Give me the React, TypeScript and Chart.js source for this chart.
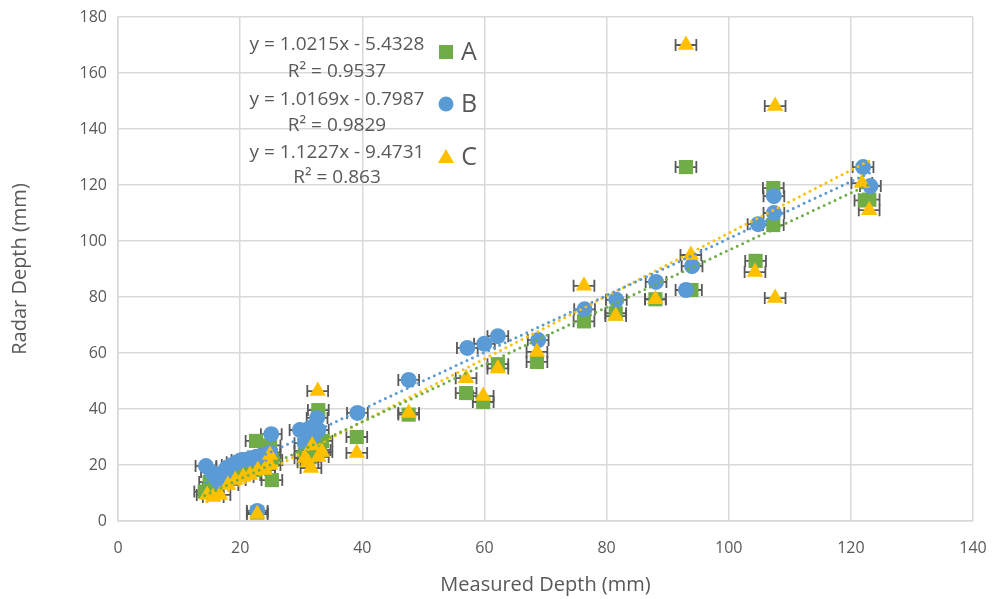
import React, { useEffect, useRef } from "react";
import { Chart, registerables } from "chart.js";
Chart.register(...registerables);

const seriesNames = ["A", "B", "C"];
const seriesColors = ["#70AD47", "#5B9BD5", "#FFC000"];
const seriesShapes = ["rect", "circle", "triangle"];
const seriesRadius = [10, 8, 9.5];

const aX = [14.2, 15.0, 15.6, 17.5, 19.2, 20.8, 22.4, 22.6, 24.0, 24.9, 25.2, 25.2, 22.8, 30.6, 31.4, 32.8, 33.1, 33.4, 39.1, 47.6, 57.0, 59.8, 62.2, 68.6, 76.3, 81.5, 88.0, 93.0, 93.9, 104.4, 107.3, 107.3, 122.3, 123.0];
const aY = [10.5, 13.9, 11.5, 15.4, 16.4, 17.5, 18.2, 28.6, 19.0, 27.0, 21.8, 14.6, 3.0, 25.0, 23.0, 39.6, 25.4, 28.6, 30.0, 38.0, 45.7, 42.5, 56.0, 56.8, 71.3, 74.2, 79.2, 126.4, 82.5, 92.9, 118.9, 105.7, 114.5, 114.8];

const bX = [14.4, 15.3, 16.0, 16.5, 17.0, 17.8, 18.0, 18.7, 19.5, 20.3, 21.2, 22.0, 23.0, 24.0, 24.9, 25.1, 22.8, 29.8, 30.6, 31.4, 31.9, 32.6, 32.8, 39.2, 47.6, 57.2, 60.0, 62.2, 68.8, 76.4, 81.6, 88.1, 93.0, 94.0, 104.8, 107.4, 107.4, 122.0, 123.2];
const bY = [19.6, 17.5, 15.5, 14.0, 17.0, 19.0, 16.0, 20.0, 21.0, 21.8, 22.0, 22.5, 23.0, 23.5, 24.5, 31.0, 3.6, 32.5, 27.8, 33.2, 29.0, 36.8, 32.5, 38.6, 50.4, 61.8, 63.3, 66.0, 64.6, 75.6, 79.0, 85.4, 82.5, 91.0, 106.0, 116.0, 110.0, 126.4, 119.6];

const cX = [14.6, 15.6, 16.7, 18.0, 19.2, 20.5, 21.6, 22.9, 24.0, 24.9, 24.9, 22.8, 30.6, 31.1, 31.6, 31.8, 32.7, 32.8, 33.4, 39.1, 47.6, 57.0, 59.8, 62.2, 68.6, 76.3, 81.5, 88.0, 93.0, 93.8, 104.3, 107.6, 107.6, 121.8, 123.0];
const cY = [9.3, 8.6, 9.3, 12.9, 14.6, 15.7, 16.4, 18.2, 18.2, 23.6, 20.0, 2.5, 22.5, 21.0, 18.9, 27.0, 46.4, 22.9, 24.6, 24.3, 38.6, 51.0, 44.6, 54.5, 60.4, 84.0, 73.2, 79.2, 170.0, 95.0, 88.9, 148.2, 79.6, 120.7, 111.0];

const slopes = [1.0215, 1.0169, 1.1227];
const intercepts = [-5.4328, -0.7987, -9.4731];
const r2Values = ["0.9537", "0.9829", "0.863"];
const xError = 1.7;

const xTitle = "Measured Depth (mm)";
const yTitle = "Radar Depth (mm)";
const xMin = 0, xMax = 140, xStep = 20;
const yMin = 0, yMax = 180, yStep = 20;

const FONT = "'Open Sans', sans-serif";
const TEXT = "#595959";
const GRID = "#D9D9D9";

function eqText(i: number) {
  const b = intercepts[i];
  return `y = ${slopes[i].toFixed(4)}x ${b < 0 ? "-" : "+"} ${Math.abs(b).toFixed(4)}`;
}

const errorBarPlugin = {
  id: "errorBars",
  beforeDatasetsDraw(chart: any) {
    const { ctx, scales } = chart;
    const xs = scales.x, ys = scales.y;
    ctx.save();
    ctx.strokeStyle = "#595959";
    ctx.lineWidth = 1.8;
    chart.data.datasets.forEach((ds: any) => {
      if (!ds.isSeries) return;
      ds.data.forEach((p: any) => {
        const x1 = xs.getPixelForValue(p.x - xError);
        const x2 = xs.getPixelForValue(p.x + xError);
        const y = ys.getPixelForValue(p.y);
        ctx.beginPath();
        ctx.moveTo(x1, y); ctx.lineTo(x2, y);
        ctx.moveTo(x1, y - 6); ctx.lineTo(x1, y + 6);
        ctx.moveTo(x2, y - 6); ctx.lineTo(x2, y + 6);
        ctx.stroke();
      });
    });
    ctx.restore();
  },
};

const labelPlugin = {
  id: "eqLabels",
  afterDraw(chart: any) {
    const { ctx } = chart;
    const rows = [
      { eqY: 45, r2Y: 72, mY: 52 },
      { eqY: 100, r2Y: 126, mY: 104 },
      { eqY: 153, r2Y: 178, mY: 157 },
    ];
    ctx.save();
    ctx.textAlign = "center";
    ctx.textBaseline = "middle";
    seriesNames.forEach((name, i) => {
      const r = rows[i];
      ctx.fillStyle = TEXT;
      ctx.font = `19px ${FONT}`;
      ctx.fillText(eqText(i), 337, r.eqY);
      ctx.fillText(`R² = ${r2Values[i]}`, 337, r.r2Y);
      ctx.font = `25px ${FONT}`;
      ctx.fillText(name, 469, r.mY + 1);
      ctx.fillStyle = seriesColors[i];
      const cx = 446, cy = r.mY;
      ctx.beginPath();
      if (seriesShapes[i] === "rect") {
        ctx.rect(cx - 7, cy - 7, 14, 14);
      } else if (seriesShapes[i] === "circle") {
        ctx.arc(cx, cy, 7.5, 0, Math.PI * 2);
      } else {
        ctx.moveTo(cx, cy - 8);
        ctx.lineTo(cx + 8, cy + 6);
        ctx.lineTo(cx - 8, cy + 6);
        ctx.closePath();
      }
      ctx.fill();
    });
    ctx.restore();
  },
};

export default function App() {
  const ref = useRef<HTMLCanvasElement>(null);
  useEffect(() => {
    if (!ref.current) return;
    const xsArr = [aX, bX, cX];
    const ysArr = [aY, bY, cY];
    const scatterSets = seriesNames.map((name, i) => ({
      label: name,
      isSeries: true,
      data: xsArr[i].map((x, j) => ({ x, y: ysArr[i][j] })),
      backgroundColor: seriesColors[i],
      borderColor: seriesColors[i],
      borderWidth: 0,
      pointStyle: seriesShapes[i],
      pointRadius: seriesRadius[i],
      showLine: false,
      order: 3 - i + 1,
    }));
    const trendSets = seriesNames.map((name, i) => {
      const lo = Math.min(...xsArr[i]);
      const hi = Math.max(...xsArr[i]);
      return {
        label: name + " trend",
        isSeries: false,
        type: "line",
        data: [
          { x: lo, y: slopes[i] * lo + intercepts[i] },
          { x: hi, y: slopes[i] * hi + intercepts[i] },
        ],
        borderColor: seriesColors[i],
        borderWidth: 3,
        borderDash: [0, 6],
        borderCapStyle: "round",
        pointRadius: 0,
        showLine: true,
        fill: false,
        order: 0,
      };
    });
    const chart = new Chart(ref.current, {
      type: "scatter",
      data: { datasets: [...scatterSets, ...trendSets] as any },
      options: {
        animation: false,
        responsive: true,
        maintainAspectRatio: false,
        layout: { padding: { top: 17, right: 24, left: 0, bottom: 0 } },
        plugins: { legend: { display: false }, tooltip: { enabled: false } },
        scales: {
          x: {
            type: "linear",
            min: xMin, max: xMax,
            ticks: { stepSize: xStep, color: TEXT, font: { family: FONT, size: 16 }, padding: 18 },
            grid: { color: GRID, lineWidth: 1.5, drawTicks: false },
            border: { color: GRID, width: 1.5 },
            title: { display: true, text: xTitle, color: TEXT, font: { family: FONT, size: 20 }, padding: { top: 0, bottom: 2 } },
            afterFit: (s: any) => { s.height = 78; s.paddingLeft = 0; s.paddingRight = 0; },
          },
          y: {
            type: "linear",
            min: yMin, max: yMax,
            ticks: { stepSize: yStep, color: TEXT, font: { family: FONT, size: 16 }, padding: 11 },
            grid: { color: GRID, lineWidth: 1.5, drawTicks: false },
            border: { color: GRID, width: 1.5 },
            title: { display: true, text: yTitle, color: TEXT, font: { family: FONT, size: 20 }, padding: { top: 8, bottom: 0 } },
            afterFit: (s: any) => { s.width = 118; s.paddingTop = 0; s.paddingBottom = 0; },
          },
        },
      } as any,
      plugins: [errorBarPlugin, labelPlugin],
    });
    return () => chart.destroy();
  }, []);
  return (
    <div style={{ position: "absolute", left: 0, top: 0, width: 997, height: 599, background: "#fff" }}>
      <canvas ref={ref} />
    </div>
  );
}
